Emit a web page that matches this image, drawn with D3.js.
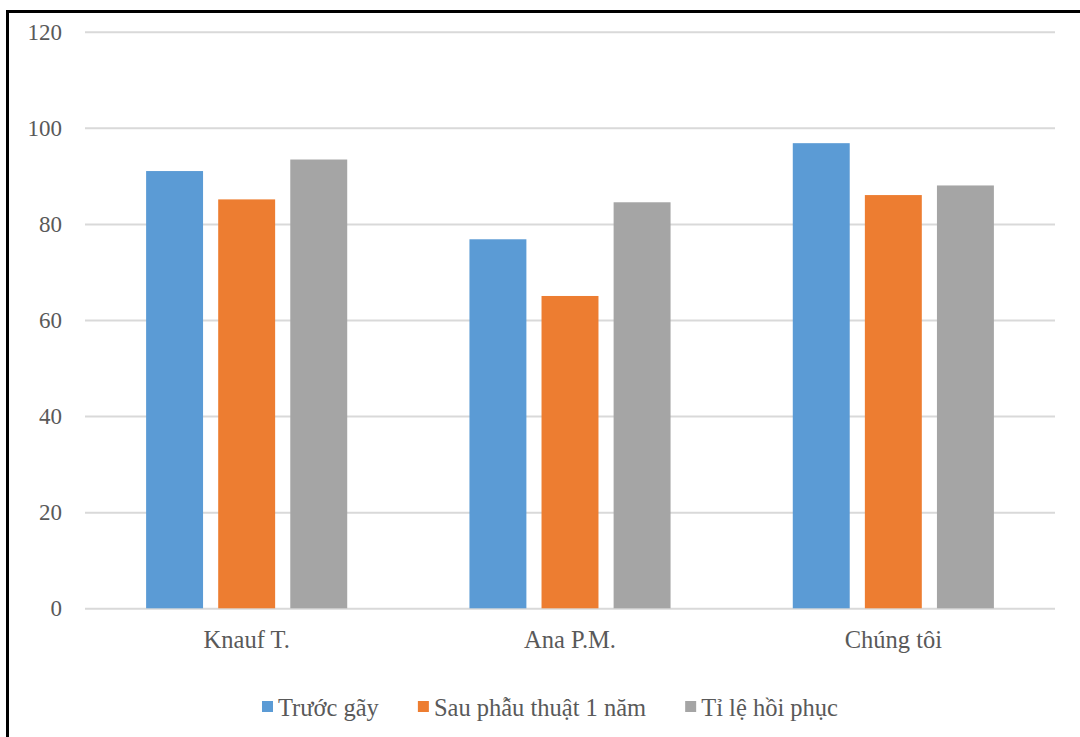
<!DOCTYPE html>
<html>
<head>
<meta charset="utf-8">
<script src="https://cdn.jsdelivr.net/npm/d3@7"></script>
<style>
  html, body { margin: 0; padding: 0; background: #fff; }
  svg { display: block; }
</style>
</head>
<body>
<svg id="chart" width="1080" height="737"></svg>
<script>
const categories = ["Knauf T.", "Ana P.M.", "Chúng tôi"];
const seriesNames = ["Trước gãy", "Sau phẫu thuật 1 năm", "Tỉ lệ hồi phục"];
const truocGay = [91, 76.8, 96.8];
const sauPhauThuat = [85.1, 65, 86];
const tiLeHoiPhuc = [93.4, 84.5, 88];
const yTicks = [0, 20, 40, 60, 80, 100, 120];
const colors = ["#5b9bd5", "#ed7d31", "#a5a5a5"];

const FONT = "Liberation Serif";
const TEXT_COLOR = "#595959";
const seriesValues = [truocGay, sauPhauThuat, tiLeHoiPhuc];
const svg = d3.select("#chart");

// frame (left and top edges visible)
svg.append("line").attr("x1", 7.5).attr("x2", 7.5).attr("y1", 10).attr("y2", 737)
  .attr("stroke", "#000").attr("stroke-width", 3);
svg.append("line").attr("x1", 6).attr("x2", 1080).attr("y1", 11.5).attr("y2", 11.5)
  .attr("stroke", "#000").attr("stroke-width", 3);

const plotLeft = 85, plotRight = 1055;
const y = d3.scaleLinear().domain([0, 120]).range([608.3, 31.7]);
const x0 = d3.scaleBand().domain(categories).range([plotLeft, plotRight])
  .paddingInner(0.378).paddingOuter(0.189);
const x1 = d3.scaleBand().domain(seriesNames).range([0, x0.bandwidth()]).paddingInner(0.21);

// gridlines + y labels
const yAxis = d3.axisLeft(y).tickValues(yTicks).tickSize(-(plotRight - plotLeft)).tickPadding(23);
const gy = svg.append("g").attr("transform", `translate(${plotLeft},0)`).call(yAxis)
  .attr("font-family", FONT).attr("font-size", 23);
gy.select(".domain").remove();
gy.selectAll(".tick line").attr("stroke", "#d9d9d9").attr("stroke-width", 2);
gy.selectAll(".tick text").attr("font-family", FONT).attr("font-size", 23)
  .attr("fill", TEXT_COLOR).attr("dy", "0.33em");

// bars
const groups = svg.append("g").selectAll("g").data(categories).join("g")
  .attr("transform", d => `translate(${x0(d)},0)`);
groups.selectAll("rect")
  .data((c, ci) => seriesNames.map((s, si) => ({ s, si, v: seriesValues[si][ci] })))
  .join("rect")
  .attr("x", d => x1(d.s))
  .attr("width", x1.bandwidth())
  .attr("y", d => y(d.v))
  .attr("height", d => y(0) - y(d.v))
  .attr("fill", d => colors[d.si]);

// x axis labels
const xAxis = d3.axisBottom(x0).tickSize(0).tickPadding(0);
const gx = svg.append("g").attr("transform", `translate(0,${y(0)})`).call(xAxis)
  .attr("font-family", FONT).attr("font-size", 24.5);
gx.select(".domain").remove();
gx.selectAll(".tick text").attr("font-family", FONT).attr("font-size", 24.5)
  .attr("y", 40).attr("dy", 0).attr("fill", TEXT_COLOR);

// legend
const legend = svg.append("g").attr("font-family", FONT).attr("font-size", 24.5);
let lx = 262;
seriesNames.forEach((name, i) => {
  legend.append("rect").attr("x", lx).attr("y", 701).attr("width", 11).attr("height", 11)
    .attr("fill", colors[i]);
  const t = legend.append("text").attr("x", lx + 16).attr("y", 716)
    .attr("font-family", FONT).attr("font-size", 24.5).attr("fill", TEXT_COLOR).text(name);
  lx += 16 + t.node().getComputedTextLength() + 39;
});
</script>
</body>
</html>
